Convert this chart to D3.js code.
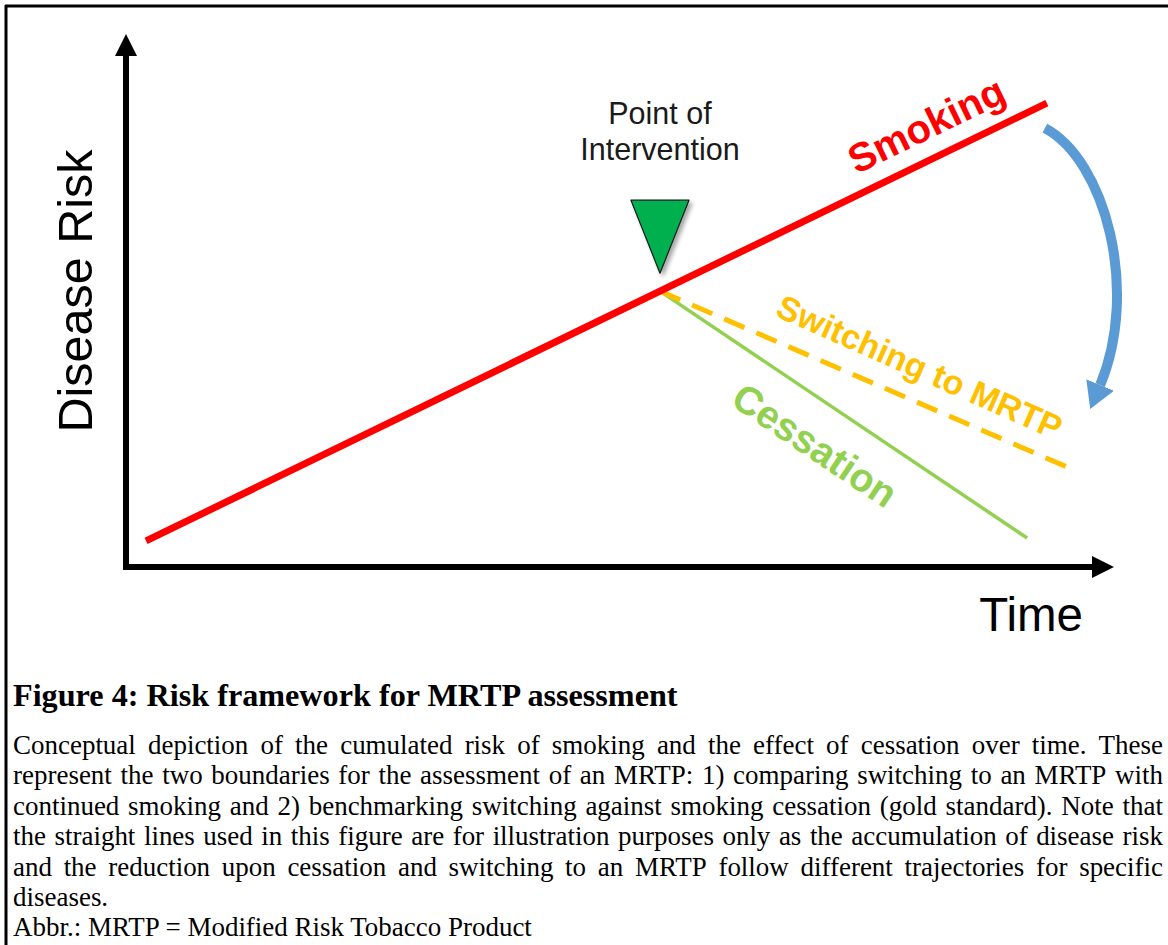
<!DOCTYPE html>
<html>
<head>
<meta charset="utf-8">
<script src="https://cdn.jsdelivr.net/npm/d3@7"></script>
<style>
  html, body { margin: 0; padding: 0; background: #fff; }
  svg { display: block; }
</style>
</head>
<body>
<svg id="chart" width="1168" height="945"></svg>
<script>
// ---------- data (conceptual units: time 0-100, risk 0-100) ----------
const timeDomain = [0, 100];
const riskDomain = [0, 100];
const smokingTime = [2.03, 93.3];
const smokingRisk = [4.9, 87.2];
const interventionTime = 54.1;
const interventionRisk = 51.85;
const cessationTime = [54.1, 91.3];
const cessationRisk = [51.85, 5.45];
const switchingTime = [54.1, 95.6];
const switchingRisk = [51.85, 18.6];
const seriesLabels = ["Smoking", "Switching to MRTP", "Cessation"];
const labelTime = [81.1, 80.4, 69.8];
const labelRisk = [83.1, 37.6, 22.9];
const interventionLabel = ["Point of", "Intervention"];
const axisLabels = ["Disease Risk", "Time"];
const titleText = "Figure 4: Risk framework for MRTP assessment";
const captionLines = [
  "Conceptual depiction of the cumulated risk of smoking and the effect of cessation over time. These",
  "represent the two boundaries for the assessment of an MRTP: 1) comparing switching to an MRTP with",
  "continued smoking and 2) benchmarking switching against smoking cessation (gold standard). Note that",
  "the straight lines used in this figure are for illustration purposes only as the accumulation of disease risk",
  "and the reduction upon cessation and switching to an MRTP follow different trajectories for specific",
  "diseases.",
  "Abbr.: MRTP = Modified Risk Tobacco Product"
];
const justified = [true, true, true, true, true, false, false];
// curved arrow (conceptual coordinates): start, control1, control2, end
const arrowTime = [93.1, 99.2, 102.7, 98.7];
const arrowRisk = [82.5, 76.5, 52.1, 34.2];

// ---------- setup ----------
const svg = d3.select("#chart");
const x = d3.scaleLinear().domain(timeDomain).range([126, 1113]);
const y = d3.scaleLinear().domain(riskDomain).range([567, 35]);

const defs = svg.append("defs");
function arrowMarker(id, len, wid, color) {
  defs.append("marker")
    .attr("id", id)
    .attr("markerUnits", "userSpaceOnUse")
    .attr("viewBox", `0 0 ${len} ${wid}`)
    .attr("markerWidth", len).attr("markerHeight", wid)
    .attr("refX", 0).attr("refY", wid / 2)
    .attr("orient", "auto")
    .append("path")
    .attr("d", `M0,0 L${len},${wid / 2} L0,${wid} Z`)
    .attr("fill", color);
}
arrowMarker("axisArrow", 22, 22, "#000");
arrowMarker("blueArrow", 26, 30, "#5B9BD5");

const shadow = defs.append("filter").attr("id", "shadow")
  .attr("x", "-30%").attr("y", "-30%").attr("width", "160%").attr("height", "160%");
shadow.append("feDropShadow").attr("dx", 3).attr("dy", 3)
  .attr("stdDeviation", 2).attr("flood-color", "#000").attr("flood-opacity", 0.35);

// ---------- frame ----------
svg.append("line").attr("x1", 5).attr("x2", 1168).attr("y1", 6).attr("y2", 6)
  .attr("stroke", "#000").attr("stroke-width", 3);
svg.append("line").attr("x1", 6).attr("x2", 6).attr("y1", 5).attr("y2", 945)
  .attr("stroke", "#000").attr("stroke-width", 3);

// ---------- axes ----------
svg.append("line")
  .attr("x1", x(0)).attr("x2", x(0))
  .attr("y1", y(0) + 3).attr("y2", y(100) + 21)
  .attr("stroke", "#000").attr("stroke-width", 6)
  .attr("marker-end", "url(#axisArrow)");
svg.append("line")
  .attr("x1", x(0) - 3).attr("x2", x(100) - 21)
  .attr("y1", y(0)).attr("y2", y(0))
  .attr("stroke", "#000").attr("stroke-width", 6)
  .attr("marker-end", "url(#axisArrow)");

const line = d3.line().x(d => x(d[0])).y(d => y(d[1]));
const zip = (a, b) => a.map((v, i) => [v, b[i]]);

// ---------- series ----------
svg.append("path").datum(zip(cessationTime, cessationRisk))
  .attr("d", line).attr("fill", "none")
  .attr("stroke", "#92D050").attr("stroke-width", 3.5);
svg.append("path").datum(zip(switchingTime, switchingRisk))
  .attr("d", line).attr("fill", "none")
  .attr("stroke", "#FFC000").attr("stroke-width", 5)
  .attr("stroke-dasharray", "22,13");
svg.append("path").datum(zip(smokingTime, smokingRisk))
  .attr("d", line).attr("fill", "none")
  .attr("stroke", "#FF0000").attr("stroke-width", 7);

// ---------- intervention marker ----------
const tipX = x(interventionTime), tipY = y(interventionRisk) - 18;
svg.append("path")
  .attr("d", `M${tipX - 29},${tipY - 73} L${tipX + 29},${tipY - 73} L${tipX},${tipY} Z`)
  .attr("fill", "#00B050").attr("stroke", "#1a1a1a").attr("stroke-width", 1.2)
  .attr("stroke-linejoin", "round")
  .attr("filter", "url(#shadow)");

svg.selectAll("text.intv").data(interventionLabel).join("text")
  .attr("class", "intv")
  .attr("x", x(interventionTime))
  .attr("y", (d, i) => 124 + i * 36)
  .attr("text-anchor", "middle")
  .attr("font-family", "Arial, 'Liberation Sans', sans-serif")
  .attr("font-size", 30.5)
  .attr("fill", "#1a1a1a")
  .text(d => d);

// ---------- series labels ----------
function angleOf(ts, rs) {
  return Math.atan2(y(rs[1]) - y(rs[0]), x(ts[1]) - x(ts[0])) * 180 / Math.PI;
}
const labelAngles = [
  angleOf(smokingTime, smokingRisk),
  angleOf(switchingTime, switchingRisk) + 0.5,
  angleOf(cessationTime, cessationRisk)
];
const labelColors = ["#FF0000", "#FFC000", "#92D050"];
const labelSizes = [40, 34, 39.5];
svg.selectAll("text.series").data(seriesLabels).join("text")
  .attr("class", "series")
  .attr("text-anchor", "middle")
  .attr("dy", "0.35em")
  .attr("font-family", "Arial, 'Liberation Sans', sans-serif")
  .attr("font-weight", "bold")
  .attr("font-size", (d, i) => labelSizes[i])
  .attr("fill", (d, i) => labelColors[i])
  .attr("transform", (d, i) => `translate(${x(labelTime[i])},${y(labelRisk[i])}) rotate(${labelAngles[i]})`)
  .text(d => d);

// ---------- curved blue arrow ----------
const ap = d3.path();
ap.moveTo(x(arrowTime[0]), y(arrowRisk[0]));
ap.bezierCurveTo(x(arrowTime[1]), y(arrowRisk[1]), x(arrowTime[2]), y(arrowRisk[2]), x(arrowTime[3]), y(arrowRisk[3]));
svg.append("path").attr("d", ap.toString())
  .attr("fill", "none").attr("stroke", "#5B9BD5").attr("stroke-width", 10)
  .attr("marker-end", "url(#blueArrow)");

// ---------- axis titles ----------
svg.append("text")
  .attr("transform", `translate(92,${291}) rotate(-90)`)
  .attr("text-anchor", "middle")
  .attr("font-family", "Arial, 'Liberation Sans', sans-serif")
  .attr("font-size", 48.5)
  .attr("fill", "#000")
  .text(axisLabels[0]);
svg.append("text")
  .attr("x", 1083).attr("y", 631)
  .attr("text-anchor", "end")
  .attr("font-family", "Arial, 'Liberation Sans', sans-serif")
  .attr("font-size", 47.5)
  .attr("fill", "#000")
  .text(axisLabels[1]);

// ---------- caption ----------
const serif = "'Liberation Serif', 'Times New Roman', serif";
const title = svg.append("text")
  .attr("x", 13).attr("y", 706)
  .attr("font-family", serif).attr("font-weight", "bold")
  .attr("font-size", 28).attr("fill", "#000")
  .text(titleText);
const tw = title.node().getComputedTextLength();
title.attr("font-size", 28 * 665 / tw);

// measure body font size from the abbreviation line width
const probe = svg.append("text").attr("font-family", serif).attr("font-size", 21)
  .text(captionLines[6]);
const bodySize = 21 * 519 / probe.node().getComputedTextLength();
probe.remove();

const left = 13, right = 1163;
captionLines.forEach((ln, i) => {
  const by = 754 + i * 30.4;
  const t = svg.append("text")
    .attr("y", by)
    .attr("font-family", serif).attr("font-size", bodySize).attr("fill", "#000");
  if (!justified[i]) {
    t.attr("x", left).text(ln);
    return;
  }
  const words = ln.split(" ");
  const widths = words.map(w => {
    const m = svg.append("text").attr("font-family", serif).attr("font-size", bodySize).text(w);
    const v = m.node().getComputedTextLength();
    m.remove();
    return v;
  });
  const total = d3.sum(widths);
  const gap = (right - left - total) / (words.length - 1);
  let cx = left;
  words.forEach((w, j) => {
    t.append("tspan").attr("x", cx).text(w);
    cx += widths[j] + gap;
  });
});
</script>
</body>
</html>
